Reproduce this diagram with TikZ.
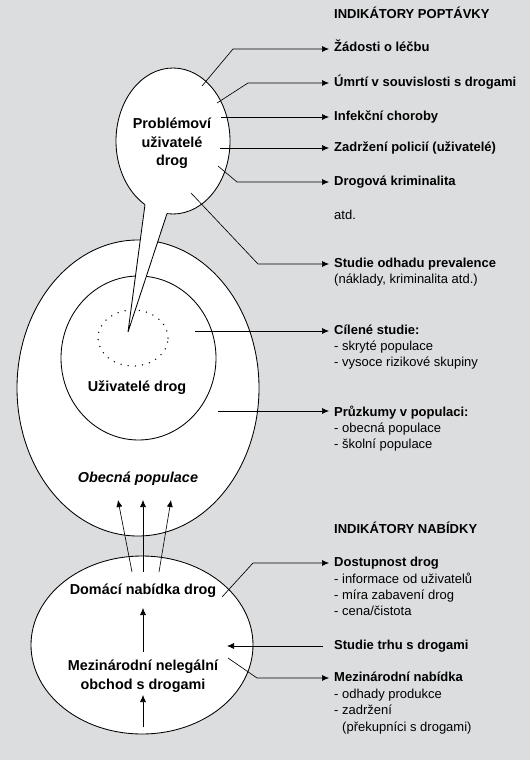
\documentclass[tikz,border=0pt]{standalone}
\usepackage{fontspec}
\setmainfont{Liberation Sans}
\usetikzlibrary{shapes.geometric,arrows.meta}
\definecolor{bg}{RGB}{220,221,223}
\begin{document}
\begin{tikzpicture}[x=1pt,y=-1pt,
  conn/.style={line width=0.65pt},
  arr/.style={conn,-{Latex[length=7pt,width=6pt]}},
  ell/.style={draw,fill=white,ellipse,inner sep=0pt,line width=0.85pt},
  txt/.style={inner sep=0pt,text height=9pt,text depth=3pt,anchor=west,font=\fontsize{13}{16}\selectfont},
  btxt/.style={txt,font=\fontsize{13}{16}\selectfont\bfseries},
  ctxt/.style={inner sep=0pt,align=center,font=\fontsize{14.4}{18.5}\selectfont\bfseries},
  dots/.style={line width=1.5pt,line cap=round,dash pattern=on 0pt off 7.2pt}
]
\fill[bg] (0,0) rectangle (530,760);
\useasboundingbox (0,0) rectangle (530,760);

% ellipses
\node[ell,minimum width=242pt,minimum height=296pt] (pop) at (138,388) {};
\node[ell,minimum width=155pt,minimum height=164pt] (users) at (138.5,358) {};
\node[draw,dots,ellipse,minimum width=70pt,minimum height=56pt] (hidden) at (133,338) {};
\node[ell,minimum width=114pt,minimum height=146pt] (prob) at (173,141) {};
\node[ell,minimum width=222pt,minimum height=178pt] (supply) at (142,645) {};

% speech-bubble tail
\coordinate (tip) at (128,332);
\coordinate (tl) at (145,204.6);
\coordinate (tr) at (167,213.6);
\fill[white] (tip) -- (146.3,195) -- (171.5,200) -- cycle;
\draw[line width=0.85pt,line join=miter] (tl) -- (tip) -- (tr);

% texts inside
\node[ctxt] (probt) at (172,143.5) {Problémoví\\uživatelé\\drog};
\node[ctxt] (userst) at (137,388) {Uživatelé drog};
\node[ctxt,font=\fontsize{14.4}{18.5}\selectfont\bfseries\itshape] (popt) at (138,479) {Obecná populace};
\node[ctxt] (domt) at (143,591) {Domácí nabídka drog};
\node[ctxt] (intt) at (143,676) {Mezinárodní nelegální\\obchod s drogami};

% right labels
\node[btxt] (hd) at (334,16) {INDIKÁTORY POPTÁVKY};
\node[btxt] (t1) at (334,49) {Žádosti o léčbu};
\node[btxt] (t2) at (334,83) {Úmrtí v souvislosti s drogami};
\node[btxt] (t3) at (334,117) {Infekční choroby};
\node[btxt] (t4) at (334,148) {Zadržení policií (uživatelé)};
\node[btxt] (t5) at (334,182) {Drogová kriminalita};
\node[txt] (t6) at (334,216) {atd.};
\node[btxt] (t7) at (334,264) {Studie odhadu prevalence};
\node[txt] (t7a) at (334,280) {(náklady, kriminalita atd.)};
\node[btxt] (t8) at (334,331) {Cílené studie:};
\node[txt] (t8a) at (334,347) {- skryté populace};
\node[txt] (t8b) at (334,363) {- vysoce rizikové skupiny};
\node[btxt] (t9) at (334,413) {Průzkumy v populaci:};
\node[txt] (t9a) at (334,429) {- obecná populace};
\node[txt] (t9b) at (334,445) {- školní populace};
\node[btxt] (hs) at (334,530) {INDIKÁTORY NABÍDKY};
\node[btxt] (u1) at (334,563) {Dostupnost drog};
\node[txt] (u1a) at (334,580) {- informace od uživatelů};
\node[txt] (u1b) at (334,596) {- míra zabavení drog};
\node[txt] (u1c) at (334,612) {- cena/čistota};
\node[btxt] (u2) at (334,646) {Studie trhu s drogami};
\node[btxt] (u3) at (334,678) {Mezinárodní nabídka};
\node[txt] (u3a) at (334,695) {- odhady produkce};
\node[txt] (u3b) at (334,711) {- zadržení};
\node[txt] (u3c) at (342,728) {(překupníci s drogami)};

% connector start points
\coordinate (s1) at (202,86);
\coordinate (s2) at (217,103);
\coordinate (s3) at (221,117);
\coordinate (s4) at (220,148);
\coordinate (s5) at (218,166);
\coordinate (s7) at (191,193);
\coordinate (s8) at (195,331);
\coordinate (s9) at (218,411);
\coordinate (r1) at (222,597);
\coordinate (r2) at (227,646);
\coordinate (r3) at (228,658);

\draw[arr,shorten >=5pt] (s1) -- (233,49) -- (t1.west);
\draw[arr,shorten >=5pt] (s2) -- (248,83) -- (t2.west);
\draw[arr,shorten >=5pt] (s3) -- (t3.west);
\draw[arr,shorten >=5pt] (s4) -- (t4.west);
\draw[arr,shorten >=5pt] (s5) -- (237,182) -- (t5.west);
\draw[arr,shorten >=5pt] (s7) -- (258,264) -- (t7.west);
\draw[arr,shorten >=5pt] (s8) -- (t8.west |- s8);
\draw[arr,shorten >=5pt] (s9) -- (t9.west |- s9);
\draw[arr,shorten >=5pt] (r1) -- (253,563) -- (u1.west);
\draw[arr,shorten <=1pt] (u2.west) ++(-10,0) coordinate (u2s) -- (r2);
\draw[arr,shorten >=5pt] (r3) -- (257,678) -- (u3.west);

% supply arrows
\coordinate (a1s) at (132,572);
\coordinate (a2s) at (143,572);
\coordinate (a3s) at (159,572);
\coordinate (a1e) at (118,500);
\coordinate (a2e) at (143,500);
\coordinate (a3e) at (171,500);
\draw[arr] (a1s) -- (a1e);
\draw[arr] (a2s) -- (a2e);
\draw[arr] (a3s) -- (a3e);
\draw[arr] (intt.north |- 652,652) -- (domt.south |- 608,608);
\coordinate (b0) at (143,727);
\draw[arr] (b0) -- (intt.south |- 695,695);
\end{tikzpicture}
\end{document}
